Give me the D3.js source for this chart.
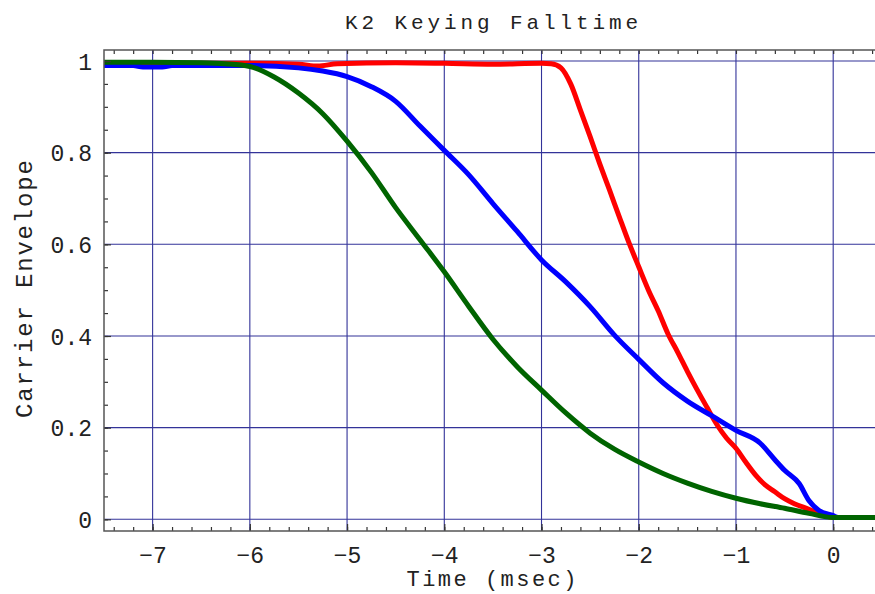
<!DOCTYPE html>
<html>
<head>
<meta charset="utf-8">
<script src="https://cdn.jsdelivr.net/npm/d3@7"></script>
<style>
  body { margin: 0; background: #fff; }
  svg text { font-family: "Liberation Mono", "DejaVu Sans Mono", monospace; fill: #222; }
</style>
</head>
<body>
<svg width="875" height="594"></svg>
<script>
// tick values
var xMajor = [-7, -6, -5, -4, -3, -2, -1, 0];
var yMajor = [0, 0.2, 0.4, 0.6, 0.8, 1];

// red trace (fastest fall)
var redT = [-7.5, -6.0, -5.5, -5.3, -5.1, -4.5, -4.0, -3.5, -3.0, -2.9, -2.8, -2.7, -2.6, -2.5, -2.4, -2.3, -2.2, -2.1, -2.0,
            -1.9, -1.8, -1.7, -1.6, -1.5, -1.4, -1.3, -1.2, -1.1, -1.0, -0.9, -0.8, -0.7, -0.6, -0.5, -0.4, -0.25, -0.1, 0, 0.44];
var redV = [0.995, 0.995, 0.993, 0.989, 0.994, 0.996, 0.995, 0.993, 0.995, 0.994, 0.985, 0.950, 0.893, 0.835, 0.775, 0.718, 0.660, 0.603, 0.551,
            0.500, 0.455, 0.405, 0.365, 0.323, 0.283, 0.245, 0.208, 0.178, 0.155, 0.125, 0.097, 0.075, 0.060, 0.045, 0.034, 0.022, 0.009, 0.004, 0.004];

// blue trace
var blueT = [-7.5, -7.2, -7.1, -6.9, -6.8, -6.0, -5.5, -5.25, -5.0, -4.75, -4.5, -4.25, -4.0, -3.75, -3.5, -3.25, -3.0, -2.75, -2.5,
             -2.25, -2.0, -1.75, -1.5, -1.25, -1.0, -0.75, -0.6, -0.5, -0.35, -0.25, -0.15, 0, 0.05, 0.44];
var blueV = [0.990, 0.990, 0.987, 0.987, 0.990, 0.990, 0.985, 0.978, 0.966, 0.944, 0.912, 0.858, 0.805, 0.752, 0.689, 0.628, 0.566, 0.518, 0.464,
             0.402, 0.349, 0.298, 0.258, 0.226, 0.194, 0.166, 0.130, 0.107, 0.078, 0.041, 0.020, 0.008, 0.004, 0.004];

// green trace (slowest fall)
var greenT = [-7.5, -7.0, -6.5, -6.25, -6.0, -5.75, -5.5, -5.25, -5.0, -4.75, -4.5, -4.25, -4.0, -3.75, -3.5, -3.25, -3.0,
              -2.75, -2.5, -2.25, -2.0, -1.75, -1.5, -1.25, -1.0, -0.75, -0.5, -0.25, 0, 0.44];
var greenV = [0.997, 0.997, 0.996, 0.994, 0.988, 0.965, 0.930, 0.885, 0.825, 0.757, 0.680, 0.610, 0.540, 0.465, 0.393, 0.333, 0.282,
              0.232, 0.188, 0.153, 0.125, 0.100, 0.079, 0.061, 0.046, 0.034, 0.024, 0.013, 0.004, 0.004];

var series = [
  {name: "red", color: "#ff0000", t: redT, v: redV},
  {name: "blue", color: "#0000ff", t: blueT, v: blueV},
  {name: "green", color: "#006400", t: greenT, v: greenV}
];

var svg = d3.select("svg");
var plotL = 104, plotR = 875, plotT = 50, plotB = 531;

var x = d3.scaleLinear().domain([-7.5, 0.43]).range([plotL, plotR]);
var y = d3.scaleLinear().domain([-0.0255, 1.024]).range([plotB, plotT]);

var minorX = d3.range(-7.4, 0.5, 0.2).map(function(d) { return Math.round(d * 10) / 10; });
var minorY = d3.range(0, 1.01, 0.05).map(function(d) { return Math.round(d * 100) / 100; });
var fmt = function(d) { return d3.format("")(d); };

// grid lines
var grid = svg.append("g").attr("stroke", "#101088").attr("stroke-width", 1.1).attr("opacity", 0.85);
grid.selectAll(".gx").data(xMajor).enter().append("line")
    .attr("x1", function(d) { return x(d); }).attr("x2", function(d) { return x(d); })
    .attr("y1", plotT).attr("y2", plotB);
grid.selectAll(".gy").data(yMajor).enter().append("line")
    .attr("y1", function(d) { return y(d); }).attr("y2", function(d) { return y(d); })
    .attr("x1", plotL).attr("x2", plotR);

// curves
svg.append("clipPath").attr("id", "clip").append("rect")
    .attr("x", plotL).attr("y", plotT).attr("width", plotR - plotL).attr("height", plotB - plotT);

var line = d3.line()
    .curve(d3.curveMonotoneX)
    .x(function(d) { return x(d[0]); })
    .y(function(d) { return y(d[1]); });

svg.append("g").attr("clip-path", "url(#clip)")
  .selectAll("path").data(series).enter().append("path")
    .attr("fill", "none")
    .attr("stroke", function(d) { return d.color; })
    .attr("stroke-width", 5)
    .attr("stroke-linejoin", "round")
    .attr("d", function(d) { return line(d3.zip(d.t, d.v)); });

// axes: minor ticks, major ticks, labels
function styleAxis(g) {
  g.select(".domain").remove();
  g.selectAll(".tick line").attr("stroke", "#333").attr("stroke-width", 1.2);
}

svg.append("g").attr("transform", "translate(0," + plotB + ")")
    .call(d3.axisBottom(x).tickValues(minorX).tickSize(-4).tickFormat(""))
    .call(styleAxis);
svg.append("g").attr("transform", "translate(0," + plotT + ")")
    .call(d3.axisTop(x).tickValues(minorX).tickSize(-4).tickFormat(""))
    .call(styleAxis);
svg.append("g").attr("transform", "translate(" + plotL + ",0)")
    .call(d3.axisLeft(y).tickValues(minorY).tickSize(-4).tickFormat(""))
    .call(styleAxis);

var xAx = svg.append("g").attr("transform", "translate(0," + plotB + ")")
    .call(d3.axisBottom(x).tickValues(xMajor).tickSize(-7).tickFormat(fmt))
    .call(styleAxis);
xAx.selectAll("text").attr("font-size", 23).attr("font-family", null).attr("fill", null)
    .attr("dy", null).attr("y", 32);

var yAx = svg.append("g").attr("transform", "translate(" + plotL + ",0)")
    .call(d3.axisLeft(y).tickValues(yMajor).tickSize(-7).tickPadding(12).tickFormat(fmt))
    .call(styleAxis);
yAx.selectAll("text").attr("font-size", 23).attr("font-family", null).attr("fill", null)
    .attr("dy", "0.36em");

// frame (left, bottom, top)
svg.append("path")
    .attr("d", "M" + plotR + "," + plotT + "H" + plotL + "V" + plotB + "H" + plotR)
    .attr("fill", "none").attr("stroke", "#555").attr("stroke-width", 1.5);

// titles
svg.append("text").attr("x", 491.5).attr("y", 29).attr("text-anchor", "middle")
    .attr("font-size", 21).attr("textLength", 293).attr("lengthAdjust", "spacing")
    .text("K2 Keying Falltime");
svg.append("text").attr("x", 491.5).attr("y", 586).attr("text-anchor", "middle")
    .attr("font-size", 22).attr("textLength", 170).attr("lengthAdjust", "spacing")
    .text("Time (msec)");
svg.append("text").attr("transform", "translate(32,289) rotate(-90)").attr("text-anchor", "middle")
    .attr("font-size", 24).attr("textLength", 258).attr("lengthAdjust", "spacing")
    .text("Carrier Envelope");
</script>
</body>
</html>
